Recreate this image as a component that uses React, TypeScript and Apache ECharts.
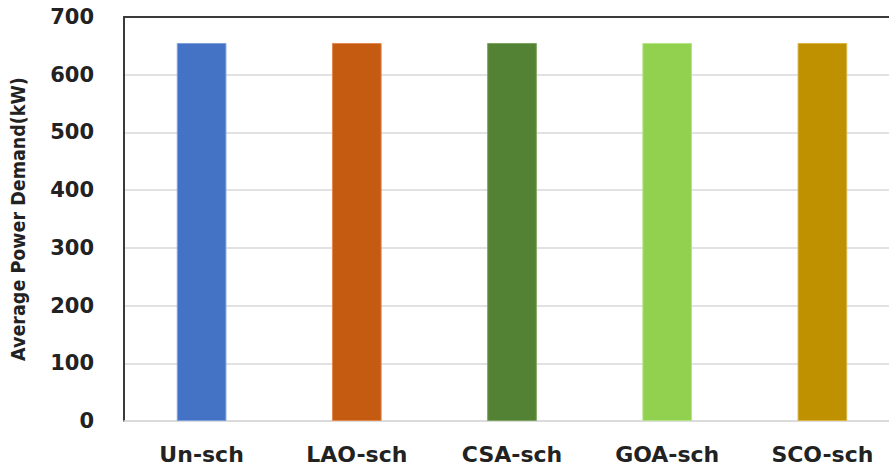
import React, { useEffect, useRef } from "react";
import * as echarts from "echarts";

const categories = ["Un-sch", "LAO-sch", "CSA-sch", "GOA-sch", "SCO-sch"];
const demandValues = [655, 655, 655, 655, 655];
const barColors = ["#4472C4", "#C55A11", "#548235", "#92D050", "#BF9000"];
const barBorders = ["#7FA0DC", "#E08A50", "#7FA460", "#B5E488", "#D9B54A"];
const yTicks = { min: 0, max: 700, interval: 100 };

export default function App() {
  const ref = useRef<HTMLDivElement>(null);

  useEffect(() => {
    document.body.style.overflow = "hidden";
    if (!ref.current) return;
    const chart = echarts.init(ref.current, undefined, { renderer: "svg" });
    chart.setOption({
      animation: false,
      backgroundColor: "#ffffff",
      grid: { left: 123, top: 17, right: 0, bottom: 49, containLabel: false },
      xAxis: [
        {
          type: "category",
          data: categories,
          axisLine: { show: true, lineStyle: { color: "#d9d9d9", width: 1.5 } },
          axisTick: { show: false },
          axisLabel: {
            margin: 22,
            color: "#222222",
            fontFamily: "DejaVu Sans",
            fontWeight: "bold",
            fontSize: 22,
          },
        },
        {
          type: "category",
          position: "top",
          data: categories,
          axisLine: { show: true, lineStyle: { color: "#3a3a3a", width: 2 } },
          axisTick: { show: false },
          axisLabel: { show: false },
        },
      ],
      yAxis: {
        type: "value",
        min: yTicks.min,
        max: yTicks.max,
        interval: yTicks.interval,
        name: "Average Power Demand(kW)",
        nameLocation: "middle",
        nameGap: 96,
        nameTextStyle: {
          color: "#222222",
          fontFamily: "'Liberation Sans Narrow', 'DejaVu Sans Condensed'",
          fontWeight: "bold",
          fontSize: 19.5,
        },
        axisLine: { show: true, lineStyle: { color: "#3a3a3a", width: 2 } },
        axisTick: { show: false },
        axisLabel: {
          margin: 30,
          color: "#222222",
          fontFamily: "DejaVu Sans",
          fontWeight: "bold",
          fontSize: 21,
        },
        splitLine: { show: true, lineStyle: { color: "#d9d9d9", width: 1.5 } },
      },
      series: [
        {
          type: "bar",
          barWidth: "32%",
          data: demandValues.map((v, i) => ({
            value: v,
            itemStyle: { color: barColors[i], borderColor: barBorders[i], borderWidth: 1 },
          })),
        },
      ],
    });
    return () => chart.dispose();
  }, []);

  return (
    <div
      ref={ref}
      style={{ position: "fixed", left: 0, top: 0, width: 900, height: 470 }}
    />
  );
}
